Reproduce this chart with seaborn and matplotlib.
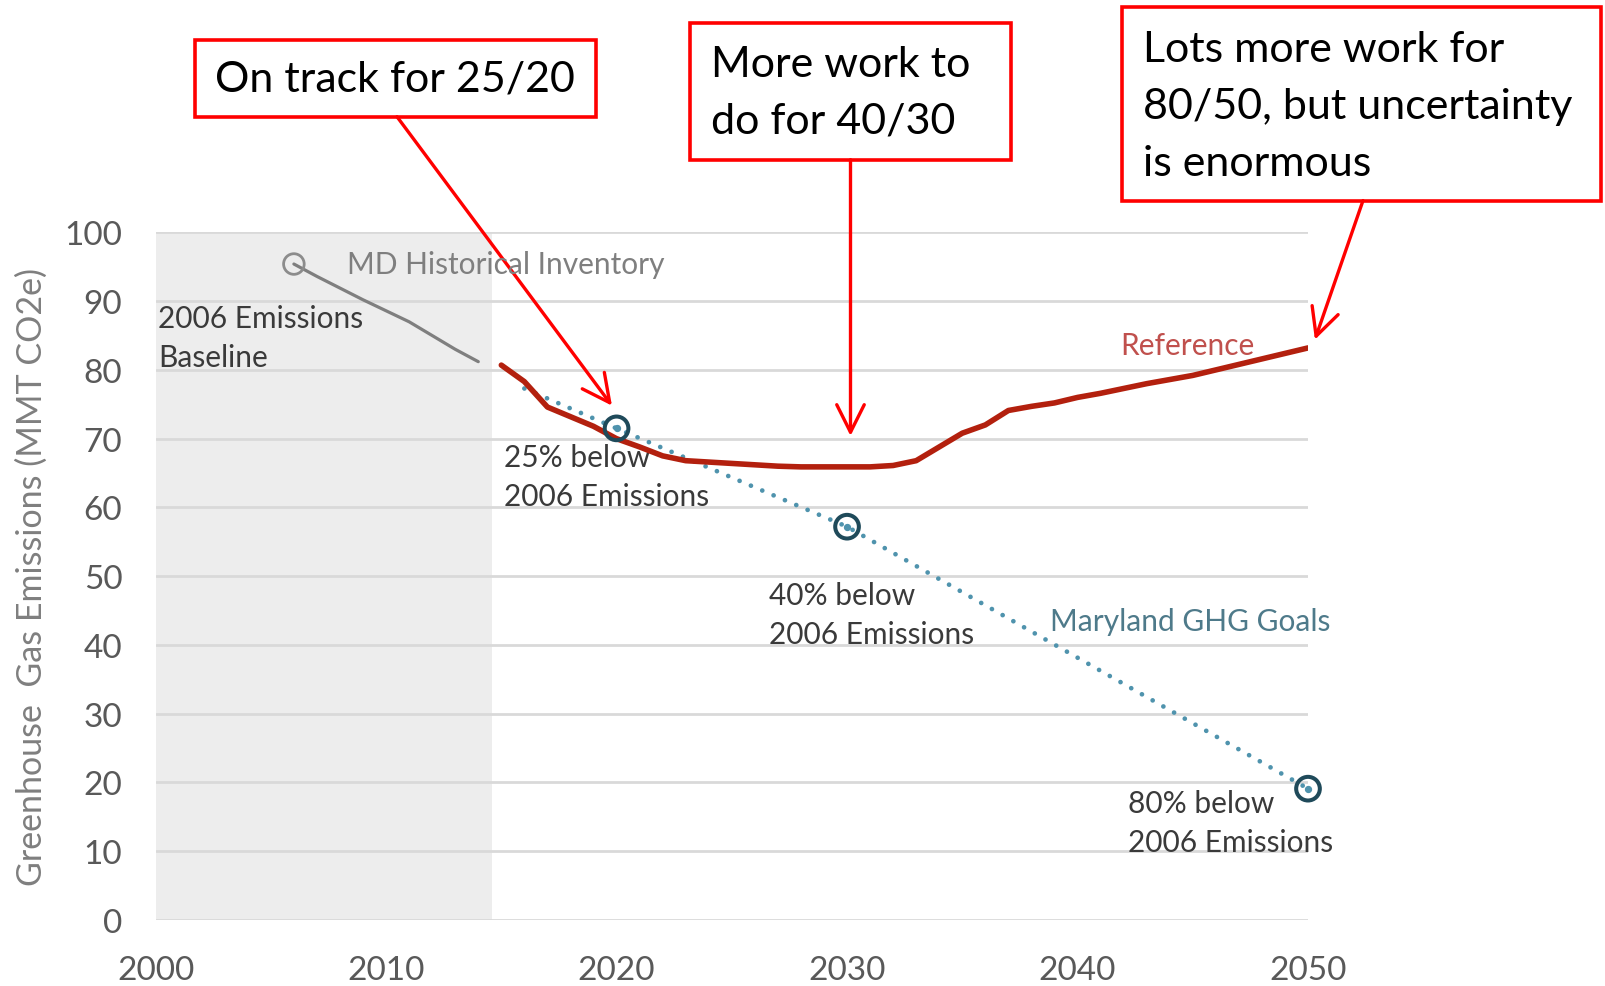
import matplotlib
matplotlib.use("Agg")
import matplotlib.pyplot as plt
import seaborn as sns
import pandas as pd
from matplotlib.patches import Rectangle

# ---- data ----
hist_years = [2006, 2007, 2008, 2009, 2010, 2011, 2012, 2013, 2014]
hist_vals = [95.4, 93.6, 91.9, 90.2, 88.6, 87.0, 85.0, 83.0, 81.2]

ref_years = list(range(2015, 2051))
ref_vals = [80.7, 78.3, 74.6, 73.2, 71.8, 70.0, 68.8, 67.5, 66.8, 66.6,
            66.4, 66.2, 66.0, 65.9, 65.9, 65.9, 65.9, 66.1, 66.8, 68.8,
            70.8, 72.0, 74.1, 74.7, 75.2, 76.0, 76.6, 77.3, 78.0, 78.6,
            79.2, 80.0, 80.8, 81.6, 82.4, 83.2]

goal_years = [2016, 2020, 2030, 2050]
goal_vals = [77.3, 71.5, 57.2, 19.1]
goal_marker_years = [2020, 2030, 2050]
goal_marker_vals = [71.5, 57.2, 19.1]

baseline_year = [2006]
baseline_val = [95.4]

x_ticks = [2000, 2010, 2020, 2030, 2040, 2050]
y_ticks = [0, 10, 20, 30, 40, 50, 60, 70, 80, 90, 100]

W, H = 1605, 987
sns.set_theme(style="white")
plt.rcParams['font.family'] = ['Lato', 'DejaVu Sans']

fig = plt.figure(figsize=(W / 100, H / 100), dpi=100)
ax = fig.add_axes([155.6 / W, 66 / H, (1308 - 155.6) / W, (921 - 233.4) / H])

ax.axvspan(2000, 2014.6, color='#ededed', zorder=0.1, lw=0)

sns.lineplot(x=hist_years, y=hist_vals, ax=ax, color='#7f7f7f', lw=2.3, zorder=3)
sns.lineplot(x=ref_years, y=ref_vals, ax=ax, color='#b3200e', lw=4.0, zorder=4)
sns.lineplot(x=goal_years, y=goal_vals, ax=ax, color='#4f93ad', lw=3.4, zorder=3,
             linestyle=(0, (0.01, 2.6)), dash_capstyle='round')
ax.scatter(goal_marker_years, goal_marker_vals, s=290, facecolors='none',
           edgecolors='#1f4a5a', linewidths=2.9, zorder=5, clip_on=False)
ax.scatter(goal_marker_years, goal_marker_vals, s=18, color='#4f93ad', zorder=5,
           clip_on=False)
ax.scatter(baseline_year, baseline_val, s=220, facecolors='none',
           edgecolors='#8c8c8c', linewidths=2.0, zorder=5)

ax.set_xlim(2000, 2050)
ax.set_ylim(0, 100)
ax.set_xticks(x_ticks)
ax.set_yticks(y_ticks)
ax.yaxis.grid(True, color='#d9d9d9', lw=2)
ax.xaxis.grid(False)
ax.set_axisbelow(True)
for s in ax.spines.values():
    s.set_visible(False)
ax.tick_params(axis='y', length=0, pad=24, labelsize=24, labelcolor='#595959')
ax.tick_params(axis='x', length=0, pad=25, labelsize=24, labelcolor='#595959')
ax.set_ylabel('Greenhouse  Gas Emissions (MMT CO2e)', fontsize=24.5, color='#7f7f7f',
              labelpad=12)
ax.set_xlabel('')

fs = 21.5
txt = dict(fontsize=fs, color='#3a3a3a', linespacing=1.5)
ax.text(2008.3, 95.4, 'MD Historical Inventory', fontsize=fs, color='#7f7f7f',
        va='center', ha='left', zorder=6)
ax.text(2000.1, 84.7, '2006 Emissions\nBaseline', va='center', ha='left', **txt)
ax.text(2015.1, 64.5, '25% below\n2006 Emissions', va='center', ha='left', **txt)
ax.text(2026.6, 44.4, '40% below\n2006 Emissions', va='center', ha='left', **txt)
ax.text(2042.2, 14.2, '80% below\n2006 Emissions', va='center', ha='left', **txt)
ax.text(2047.7, 83.6, 'Reference', fontsize=fs, color='#c0504d', va='center', ha='right')
ax.text(2038.8, 43.5, 'Maryland GHG Goals', fontsize=fs, color='#4e7a8a',
        va='center', ha='left')

# ---- callout boxes ----
def fx(px):
    return px / W

def fy(py):
    return 1 - py / H

boxes = [
    ((194.5, 41), (595.7, 117.7)),
    ((690, 23.5), (1011, 160.7)),
    ((1122, 8), (1601, 201.6)),
]
for (x0, y0), (x1, y1) in boxes:
    fig.add_artist(Rectangle((fx(x0), fy(y1)), fx(x1) - fx(x0), fy(y0) - fy(y1),
                             transform=fig.transFigure, fill=False,
                             edgecolor='#ff0000', lw=2.6, zorder=10))

bt = dict(fontsize=31, color='black', va='center', ha='left', linespacing=1.6)
fig.text(fx(215), fy(80), 'On track for 25/20', **bt)
fig.text(fx(711), fy(93), 'More work to\ndo for 40/30', **bt)
fig.text(fx(1143), fy(107), 'Lots more work for\n80/50, but uncertainty\nis enormous', **bt)

arrow = dict(arrowstyle='->,head_length=0.9,head_width=0.45', color='#ff0000',
             lw=2.4, mutation_scale=22, shrinkA=0, shrinkB=0)
ax.annotate('', xy=(2019.8, 74.8), xytext=(fx(397), fy(117.7)),
            textcoords='figure fraction', arrowprops=arrow, annotation_clip=False)
ax.annotate('', xy=(2030.15, 70.4), xytext=(fx(850.5), fy(160.7)),
            textcoords='figure fraction', arrowprops=arrow, annotation_clip=False)
ax.annotate('', xy=(2050.3, 84.4), xytext=(fx(1363), fy(201.6)),
            textcoords='figure fraction', arrowprops=arrow, annotation_clip=False)

fig.savefig('out.png', dpi=100)
